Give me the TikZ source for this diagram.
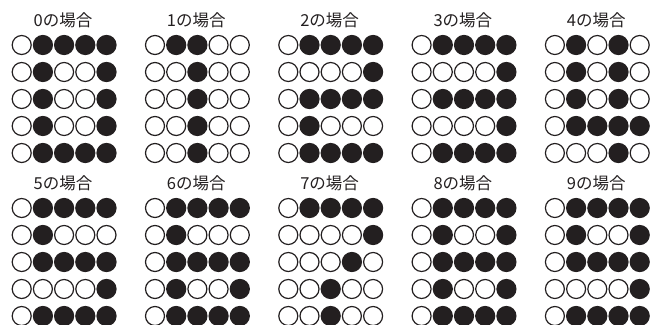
\documentclass[tikz,border=0pt]{standalone}
\usepackage{fontspec}
\newfontfamily\jpfont{Noto Sans CJK JP}
\usepackage{xstring}
\usepackage{tikz}
\definecolor{dotink}{HTML}{231F20}

\begin{document}
\begin{tikzpicture}[x=1pt, y=-1pt,
  dot/.style={circle, draw=dotink, line width=1.2pt, minimum size=19pt, inner sep=0pt},
  title/.style={font=\jpfont\fontsize{16.5}{16.5}\selectfont, text=dotink, inner sep=0pt}
]
  \useasboundingbox (0,0) rectangle (652,324);
  % digit / block column / block row / dot rows
  \foreach \d/\bx/\by/\pat in {
      0/0/0/{01111,01001,01001,01001,01111},
      1/1/0/{01100,00100,00100,00100,00100},
      2/2/0/{01111,00001,01111,01000,01111},
      3/3/0/{01111,00001,01111,00001,01111},
      4/4/0/{01010,01010,01010,01111,00010},
      5/0/1/{01111,01000,01111,00001,01111},
      6/1/1/{01111,01000,01111,01001,01111},
      7/2/1/{01111,00001,00010,00100,00100},
      8/3/1/{01111,01001,01111,01001,01111},
      9/4/1/{01111,01001,01111,00001,01111}}{
    \node[title] (lbl\d) at (\bx*133.3+63, \by*163+20) {\d の場合};
    \foreach \row [count=\ri] in \pat {
      \foreach \ci in {1,...,5}{
        \StrChar{\row}{\ci}[\bit]
        \ifnum\bit=1 \def\dotfill{dotink}\else\def\dotfill{white}\fi
        \node[dot, fill=\dotfill] (d\d-\ri-\ci)
          at (\bx*133.3+21.7+\ci*21.2-21.2, \by*163+45+\ri*27-27) {};
      }
    }
  }
\end{tikzpicture}
\end{document}
